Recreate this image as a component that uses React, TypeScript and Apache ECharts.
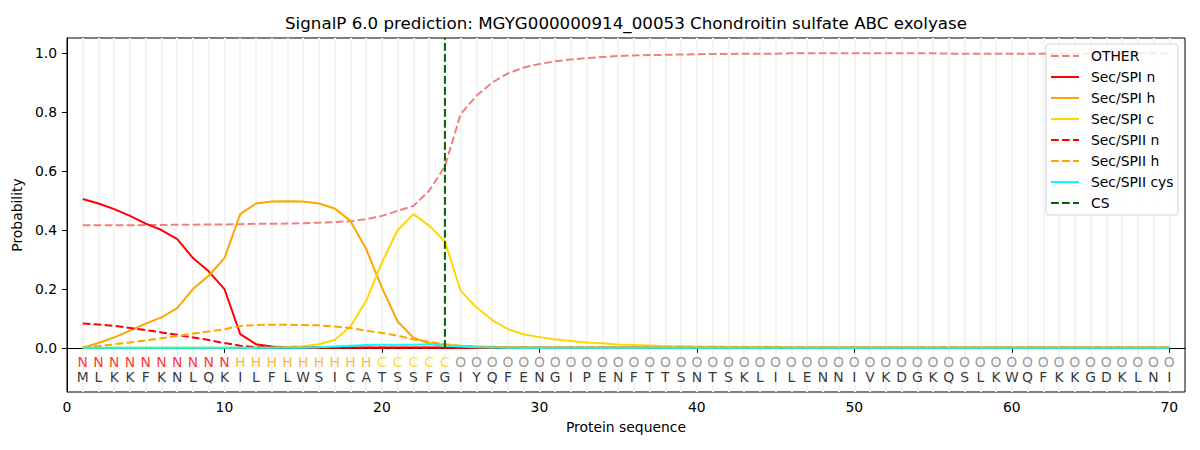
import React, { useEffect, useRef } from "react";
import * as echarts from "echarts";

const sequence = "MLKKFKNLQKILFLWSICATSSFGIYQFENGIPENFTTSNTSKLILENNIVKDGKQSLKWQFKKGDKLNI".split("");
const regionLabels = ("NNNNNNNNNN" + "HHHHHHHHH" + "CCCCC" + "OOOOOOOOOO" + "OOOOOOOOOO" + "OOOOOOOOOO" + "OOOOOOOOOO" + "OOOOOO").split("");

const otherProb = [
  0.415, 0.415, 0.415, 0.415, 0.416, 0.416, 0.417, 0.417, 0.418, 0.418,
  0.419, 0.42, 0.42, 0.421, 0.422, 0.424, 0.426, 0.429, 0.436, 0.447,
  0.464, 0.481, 0.532, 0.615, 0.792, 0.854, 0.899, 0.93, 0.95, 0.962,
  0.971, 0.977, 0.982, 0.986, 0.989, 0.991, 0.992, 0.993, 0.994, 0.995,
  0.996, 0.996, 0.997, 0.997, 0.997, 0.998, 0.998, 0.998, 0.998, 0.998,
  0.998, 0.998, 0.998, 0.998, 0.998, 0.997, 0.997, 0.997, 0.997, 0.997,
  0.997, 0.997, 0.997, 0.997, 0.997, 0.997, 0.997, 0.998, 0.998, 0.998,
];
const spiN = [
  0.504, 0.489, 0.47, 0.447, 0.421, 0.399, 0.368, 0.304, 0.259, 0.199,
  0.046, 0.012, 0.004, 0.002, 0.001, 0.001, 0.001, 0.001, 0.001, 0.001,
  0.001, 0.001, 0.001, 0.001, 0, 0, 0, 0, 0, 0,
  0, 0, 0, 0, 0, 0, 0, 0, 0, 0,
  0, 0, 0, 0, 0, 0, 0, 0, 0, 0,
  0, 0, 0, 0, 0, 0, 0, 0, 0, 0,
  0, 0, 0, 0, 0, 0, 0, 0, 0, 0,
];
const spiH = [
  0, 0.016, 0.035, 0.058, 0.082, 0.103, 0.134, 0.199, 0.244, 0.304,
  0.453, 0.489, 0.496, 0.497, 0.496, 0.489, 0.472, 0.43, 0.335, 0.204,
  0.089, 0.034, 0.015, 0.01, 0.006, 0.004, 0.003, 0.002, 0.002, 0.001,
  0.001, 0.001, 0.001, 0.001, 0.001, 0.001, 0.001, 0.001, 0.001, 0.001,
  0.001, 0.001, 0.001, 0.001, 0.001, 0.001, 0.001, 0.001, 0.001, 0.001,
  0.001, 0.001, 0.001, 0.001, 0.001, 0.001, 0.001, 0.001, 0.001, 0.001,
  0.001, 0.001, 0.001, 0.001, 0.001, 0.001, 0.001, 0.001, 0.001, 0.001,
];
const spiC = [
  0, 0, 0, 0, 0, 0, 0, 0, 0, 0,
  0, 0, 0.001, 0.003, 0.005, 0.012, 0.026, 0.072, 0.159, 0.289,
  0.399, 0.453, 0.414, 0.36, 0.193, 0.137, 0.094, 0.063, 0.046, 0.036,
  0.028, 0.023, 0.018, 0.015, 0.011, 0.009, 0.008, 0.006, 0.005, 0.004,
  0.004, 0.003, 0.003, 0.003, 0.003, 0.002, 0.002, 0.002, 0.002, 0.002,
  0.002, 0.002, 0.002, 0.002, 0.002, 0.002, 0.002, 0.002, 0.002, 0.002,
  0.002, 0.002, 0.002, 0.002, 0.002, 0.002, 0.002, 0.002, 0.002, 0.002,
];
const spiiN = [
  0.082, 0.079, 0.074, 0.067, 0.06, 0.052, 0.044, 0.035, 0.026, 0.016,
  0.007, 0.002, 0.001, 0, 0, 0, 0, 0, 0, 0,
  0, 0, 0, 0, 0, 0, 0, 0, 0, 0,
  0, 0, 0, 0, 0, 0, 0, 0, 0, 0,
  0, 0, 0, 0, 0, 0, 0, 0, 0, 0,
  0, 0, 0, 0, 0, 0, 0, 0, 0, 0,
  0, 0, 0, 0, 0, 0, 0, 0, 0, 0,
];
const spiiH = [
  0.001, 0.006, 0.012, 0.018, 0.025, 0.032, 0.04, 0.048, 0.055, 0.063,
  0.074, 0.077, 0.078, 0.078, 0.077, 0.076, 0.072, 0.067, 0.058, 0.05,
  0.041, 0.028, 0.02, 0.012, 0.007, 0.004, 0.002, 0.001, 0, 0,
  0, 0, 0, 0, 0, 0, 0, 0, 0, 0,
  0, 0, 0, 0, 0, 0, 0, 0, 0, 0,
  0, 0, 0, 0, 0, 0, 0, 0, 0, 0,
  0, 0, 0, 0, 0, 0, 0, 0, 0, 0,
];
const spiiCys = [
  0, 0, 0, 0, 0, 0, 0, 0, 0, 0,
  0, 0, 0, 0, 0, 0.002, 0.004, 0.007, 0.009, 0.01,
  0.01, 0.01, 0.012, 0.007, 0.004, 0.002, 0.001, 0, 0, 0,
  0, 0, 0, 0, 0, 0, 0, 0, 0, 0,
  0, 0, 0, 0, 0, 0, 0, 0, 0, 0,
  0, 0, 0, 0, 0, 0, 0, 0, 0, 0,
  0, 0, 0, 0, 0, 0, 0, 0, 0, 0,
];
const csPosition = 24;
const xTicks = [0, 10, 20, 30, 40, 50, 60, 70];
const yTicks = [0, 0.2, 0.4, 0.6, 0.8, 1.0];
const legendNames = ["OTHER", "Sec/SPI n", "Sec/SPI h", "Sec/SPI c", "Sec/SPII n", "Sec/SPII h", "Sec/SPII cys", "CS"];
const legendColors = ["#f08080", "#ff0000", "#ffa500", "#ffd700", "#ff0000", "#ffa500", "#00ffff", "#006400"];
const legendDashed = [true, false, false, false, true, true, false, true];
const regionColors: Record<string, string> = { N: "#ff0000", H: "#ffa500", C: "#ffd700", O: "#808080" };

const FONT = "DejaVu Sans";
const Y_MIN = -0.15;
const Y_MAX = 1.05;
const LABEL_ROW_Y = -0.047;
const SEQ_ROW_Y = -0.099;
const DASH = [7.7, 3.3];

export default function App() {
  const ref = useRef<HTMLDivElement>(null);
  useEffect(() => {
    document.body.style.margin = "0";
    if (!ref.current) return;
    const chart = echarts.init(ref.current, null, { renderer: "svg" });
    const positions = sequence.map((_, i) => i + 1);
    const mk = (vals: number[]) => vals.map((v, i) => [positions[i], v]);
    const lineSeries = (name: string, vals: number[], color: string, dashed: boolean) => ({
      name,
      type: "line",
      data: mk(vals),
      symbol: "none",
      z: 3,
      itemStyle: { color },
      lineStyle: { color, width: 2, type: dashed ? DASH : "solid" },
    });

    // legend drawn as graphic elements (matplotlib style)
    const LX = 1046, LY = 44, LW = 132, LH = 171, ROW = 21;
    const legendGraphic: any[] = [
      {
        type: "rect",
        shape: { x: LX, y: LY, width: LW, height: LH, r: 3 },
        style: { fill: "rgba(255,255,255,0.8)", stroke: "#d3d3d3", lineWidth: 1 },
        z: 100,
      },
    ];
    legendNames.forEach((n, i) => {
      const cy = LY + 12 + i * ROW;
      legendGraphic.push({
        type: "line",
        shape: { x1: LX + 5, y1: cy, x2: LX + 33, y2: cy },
        style: { stroke: legendColors[i], lineWidth: 2, lineDash: legendDashed[i] ? DASH : null },
        z: 101,
      });
      legendGraphic.push({
        type: "text",
        x: LX + 45,
        y: cy,
        style: { text: n, fontSize: 13.9, fontFamily: FONT, fill: "#000", align: "left", verticalAlign: "middle" },
        z: 101,
      });
    });

    const option: any = {
      animation: false,
      textStyle: { fontFamily: FONT },
      graphic: [
        {
          type: "text",
          x: 626,
          y: 23,
          style: {
            text: "SignalP 6.0 prediction: MGYG000000914_00053 Chondroitin sulfate ABC exolyase",
            align: "center",
            verticalAlign: "middle",
            fontSize: 16.7,
            fontFamily: FONT,
            fill: "#000",
          },
        },
        ...legendGraphic,
      ],
      grid: { left: 67, right: 15, top: 38, bottom: 58, show: true, borderColor: "#000", borderWidth: 1, backgroundColor: "transparent" },
      xAxis: {
        type: "value",
        min: 0,
        max: 71,
        name: "Protein sequence",
        nameLocation: "middle",
        nameGap: 28,
        nameTextStyle: { fontSize: 13.9, fontFamily: FONT, color: "#000" },
        axisLine: { show: true, lineStyle: { color: "#000", width: 1 } },
        axisTick: { show: true, length: 5, lineStyle: { color: "#000" }, customValues: xTicks },
        axisLabel: { fontSize: 13.9, fontFamily: FONT, color: "#000", margin: 8, customValues: xTicks },
        splitLine: { show: false },
      },
      yAxis: {
        type: "value",
        min: Y_MIN,
        max: Y_MAX,
        name: "Probability",
        nameLocation: "middle",
        nameGap: 31,
        nameTextStyle: { fontSize: 13.9, fontFamily: FONT, color: "#000" },
        axisLine: { show: true, lineStyle: { color: "#000", width: 1 } },
        axisTick: { show: true, length: 5, lineStyle: { color: "#000" }, customValues: yTicks },
        axisLabel: {
          fontSize: 13.9,
          fontFamily: FONT,
          color: "#000",
          margin: 10,
          customValues: yTicks,
          formatter: (v: number) => v.toFixed(1),
        },
        splitLine: { show: false },
      },
      series: [
        {
          name: "regionLabels",
          type: "scatter",
          symbolSize: 1,
          z: 2,
          itemStyle: { color: "rgba(0,0,0,0)" },
          data: regionLabels.map((l, i) => ({
            name: l,
            value: [positions[i], LABEL_ROW_Y],
            label: { color: regionColors[l] },
          })),
          label: { show: true, position: "inside", formatter: "{b}", fontSize: 13.9, fontFamily: FONT },
          markLine: {
            silent: true,
            z: 0,
            symbol: ["none", "none"],
            label: { show: false },
            emphasis: { disabled: true },
            lineStyle: { color: "#f4f4f4", width: 2, type: "solid", opacity: 1 },
            data: positions.map((p) => ({ xAxis: p })),
          },
        },
        {
          name: "sequence",
          type: "scatter",
          symbolSize: 1,
          z: 2,
          itemStyle: { color: "rgba(0,0,0,0)" },
          data: sequence.map((a, i) => ({ name: a, value: [positions[i], SEQ_ROW_Y] })),
          label: { show: true, position: "inside", formatter: "{b}", fontSize: 13.9, fontFamily: FONT, color: "#000" },
        },
        lineSeries("OTHER", otherProb, "#f08080", true),
        lineSeries("Sec/SPI n", spiN, "#ff0000", false),
        lineSeries("Sec/SPI h", spiH, "#ffa500", false),
        lineSeries("Sec/SPI c", spiC, "#ffd700", false),
        lineSeries("Sec/SPII n", spiiN, "#ff0000", true),
        lineSeries("Sec/SPII h", spiiH, "#ffa500", true),
        lineSeries("Sec/SPII cys", spiiCys, "#00ffff", false),
        {
          name: "CS",
          type: "line",
          symbol: "none",
          z: 4,
          data: [
            [csPosition, 0],
            [csPosition, Y_MAX],
          ],
          itemStyle: { color: "#006400" },
          lineStyle: { color: "#006400", width: 2, type: DASH },
        },
      ],
    };
    chart.setOption(option);
    return () => chart.dispose();
  }, []);
  return <div ref={ref} style={{ width: 1200, height: 450 }} />;
}
